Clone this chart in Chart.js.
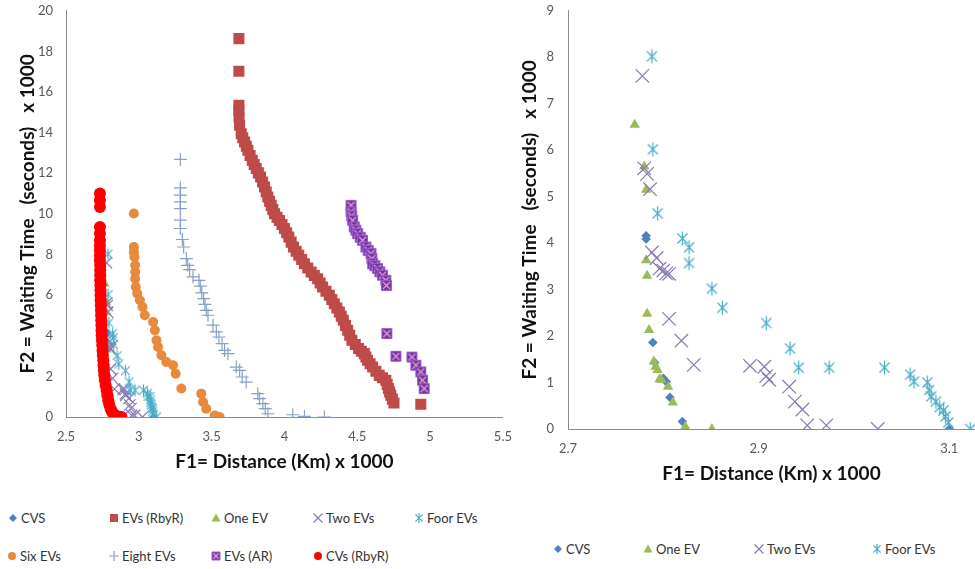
<!DOCTYPE html>
<html>
<head>
<meta charset="utf-8">
<script src="https://cdn.jsdelivr.net/npm/chart.js@4.4.0/dist/chart.umd.min.js"></script>
<style>
  body { margin: 0; background: #fff; width: 975px; height: 569px; overflow: hidden; position: relative; font-family: Lato, sans-serif; }
  #left { position: absolute; left: 0; top: -10px; }
  #right { position: absolute; left: 505px; top: -11px; }
  .item { position: absolute; display: flex; align-items: center; white-space: nowrap; font-size: 13px; color: #333; line-height: 16px; }
  .item canvas { margin-right: 2px; }
</style>
</head>
<body>
<canvas id="left" width="524" height="500"></canvas>
<canvas id="right" width="470" height="501"></canvas>
<div id="legend"></div>
<script>
// tick labels
const leftXTicks = [2.5, 3, 3.5, 4, 4.5, 5, 5.5];
const leftYTicks = [0, 2, 4, 6, 8, 10, 12, 14, 16, 18, 20];
const rightXTicks = [2.7, 2.9, 3.1];
const rightYTicks = [0, 1, 2, 3, 4, 5, 6, 7, 8, 9];

// series, [distance, waiting time] in thousands
const cvs = [[2.782,4.16],[2.782,4.09],[2.789,1.86],[2.791,1.43],[2.800,1.09],[2.803,1.02],[2.807,0.68],[2.820,0.16],[3.100,0.0]];
const oneEV = [[2.770,6.55],[2.780,5.65],[2.782,5.15],[2.782,3.63],[2.783,3.30],[2.783,2.48],[2.785,2.13],[2.790,1.45],[2.792,1.34],[2.794,1.27],[2.796,1.07],[2.798,1.06],[2.805,0.91],[2.810,0.57],[2.823,0.05],[2.851,0.0]];
const twoEVs = [[2.778,7.60],[2.780,5.61],[2.783,5.49],[2.786,5.16],[2.788,3.80],[2.793,3.68],[2.796,3.45],[2.800,3.41],[2.803,3.35],[2.806,3.34],[2.806,2.37],[2.819,1.90],[2.832,1.38],[2.891,1.36],[2.906,1.34],[2.908,1.14],[2.911,1.06],[2.932,0.91],[2.938,0.59],[2.946,0.42],[2.951,0.08],[2.971,0.08],[3.025,0.0]];
const foorEVs = [[2.788,8.02],[2.789,6.02],[2.794,4.64],[2.820,4.10],[2.827,3.91],[2.827,3.57],[2.851,3.02],[2.862,2.61],[2.908,2.28],[2.933,1.73],[2.942,1.32],[2.974,1.32],[3.032,1.32],[3.059,1.17],[3.063,1.02],[3.077,1.00],[3.079,0.84],[3.081,0.70],[3.086,0.59],[3.090,0.47],[3.094,0.40],[3.096,0.27],[3.099,0.14],[3.122,0.0]];
const evsRbyR = [[3.687,18.63],[3.687,17.02],[3.687,15.35],[3.687,15.10],[3.688,14.77],[3.692,14.36],[3.703,13.95],[3.714,13.75],[3.726,13.54],[3.738,13.33],[3.749,13.13],[3.764,12.88],[3.779,12.64],[3.792,12.43],[3.806,12.23],[3.821,12.02],[3.836,11.82],[3.850,11.57],[3.863,11.32],[3.875,11.08],[3.886,10.83],[3.898,10.62],[3.909,10.42],[3.920,10.21],[3.932,10.01],[3.949,9.84],[3.966,9.68],[3.983,9.48],[4.000,9.28],[4.015,9.07],[4.030,8.86],[4.046,8.61],[4.062,8.37],[4.080,8.16],[4.098,7.96],[4.118,7.75],[4.137,7.55],[4.160,7.34],[4.183,7.14],[4.205,6.97],[4.228,6.81],[4.245,6.60],[4.262,6.40],[4.285,6.19],[4.308,5.99],[4.325,5.78],[4.342,5.58],[4.360,5.37],[4.377,5.17],[4.390,4.96],[4.404,4.76],[4.419,4.51],[4.434,4.27],[4.448,4.02],[4.463,3.78],[4.486,3.57],[4.509,3.37],[4.528,3.24],[4.548,3.12],[4.559,2.95],[4.570,2.79],[4.588,2.62],[4.605,2.46],[4.628,2.25],[4.651,2.05],[4.673,1.93],[4.696,1.81],[4.705,1.60],[4.714,1.40],[4.722,1.23],[4.730,1.07],[4.741,0.88],[4.752,0.69],[4.936,0.63]];
const sixEVs = [[2.966,10.02],[2.966,8.37],[2.966,8.13],[2.970,7.88],[2.975,7.47],[2.975,7.14],[2.975,6.81],[2.979,6.40],[2.989,6.08],[3.007,5.75],[3.025,5.42],[3.041,5.01],[3.098,4.68],[3.110,4.27],[3.121,3.78],[3.132,3.45],[3.155,3.04],[3.189,2.71],[3.235,2.55],[3.253,2.13],[3.292,1.40],[3.429,1.15],[3.441,0.74],[3.463,0.41],[3.521,0.08],[3.555,0.0]];
const eightEVs = [[3.285,12.68],[3.285,11.28],[3.285,10.92],[3.285,10.59],[3.285,10.26],[3.285,9.69],[3.285,9.28],[3.299,8.74],[3.308,8.37],[3.326,7.80],[3.336,7.47],[3.349,7.26],[3.372,6.90],[3.413,6.73],[3.422,6.44],[3.432,6.11],[3.445,5.83],[3.454,5.55],[3.463,5.25],[3.475,5.01],[3.509,4.52],[3.532,4.19],[3.550,3.94],[3.571,3.61],[3.589,3.28],[3.612,3.12],[3.669,2.46],[3.692,2.30],[3.710,1.97],[3.737,1.72],[3.817,1.15],[3.829,0.90],[3.852,0.66],[3.868,0.41],[3.886,0.16],[4.057,0.11],[4.137,0.03],[4.274,0.0]];
const evsAR = [[4.457,10.42],[4.457,10.10],[4.462,9.90],[4.468,9.68],[4.479,9.36],[4.490,9.20],[4.502,9.03],[4.520,8.85],[4.536,8.70],[4.559,8.37],[4.575,8.20],[4.594,8.05],[4.600,7.80],[4.605,7.55],[4.620,7.45],[4.639,7.31],[4.655,7.15],[4.673,6.98],[4.696,6.73],[4.700,6.48],[4.703,4.11],[4.765,2.99],[4.875,2.95],[4.902,2.55],[4.936,2.22],[4.948,1.81],[4.959,1.40]];
const cvsRbyR = [[2.733,11.00],[2.733,10.67],[2.733,10.34],[2.733,9.36],[2.733,9.03],[2.733,8.70],[2.733,8.45],[2.733,8.21],[2.733,7.96],[2.733,7.72],[2.735,7.47],[2.735,7.22],[2.735,6.98],[2.735,6.73],[2.736,6.49],[2.737,6.24],[2.737,6.00],[2.738,5.75],[2.739,5.50],[2.740,5.25],[2.741,5.01],[2.742,4.76],[2.743,4.52],[2.744,4.27],[2.745,4.02],[2.747,3.78],[2.749,3.53],[2.751,3.28],[2.753,3.04],[2.756,2.79],[2.758,2.55],[2.760,2.30],[2.763,2.06],[2.767,1.81],[2.772,1.56],[2.779,1.31],[2.784,1.07],[2.790,0.82],[2.797,0.62],[2.806,0.41],[2.815,0.28],[2.824,0.16],[2.840,0.08],[2.858,0.03],[2.881,0.00]];

const leftSeries = [
  ['CVS', cvs], ['EVs (RbyR)', evsRbyR], ['One EV', oneEV], ['Two EVs', twoEVs], ['Foor EVs', foorEVs],
  ['Six EVs', sixEVs], ['Eight EVs', eightEVs], ['EVs (AR)', evsAR], ['CVs (RbyR)', cvsRbyR]
];
const rightSeries = [['CVS', cvs], ['One EV', oneEV], ['Two EVs', twoEVs], ['Foor EVs', foorEVs]];

// marker look per series: kind, colour, radius left chart, radius right chart
const looks = {
  'CVS':        { kind: 'diamond',  color: '#4f81bd', rl: 4,   rr: 4.8 },
  'EVs (RbyR)': { kind: 'square',   color: '#be4b48', rl: 7.8, rr: 7.8 },
  'One EV':     { kind: 'triangle', color: '#9bbb59', rl: 5,   rr: 6 },
  'Two EVs':    { kind: 'x',        color: '#8878b5', rl: 8,   rr: 9.5 },
  'Foor EVs':   { kind: 'asterisk', color: '#4bacc6', rl: 6,   rr: 7 },
  'Six EVs':    { kind: 'circle',   color: '#e8893b', rl: 5,   rr: 5 },
  'Eight EVs':  { kind: 'plus',     color: '#87a0c8', rl: 6.5, rr: 6.5 },
  'EVs (AR)':   { kind: 'arsquare', color: '#7434a8', rl: 5,   rr: 5 },
  'CVs (RbyR)': { kind: 'circle',   color: '#ff0000', rl: 6,   rr: 6 }
};

function drawMarker(g, kind, cx, cy, r, color) {
  g.fillStyle = color;
  g.strokeStyle = color;
  g.lineWidth = 1.2;
  g.beginPath();
  if (kind === 'diamond') {
    g.moveTo(cx, cy - r); g.lineTo(cx + r, cy); g.lineTo(cx, cy + r); g.lineTo(cx - r, cy); g.closePath(); g.fill();
  } else if (kind === 'square') {
    g.rect(cx - r, cy - r, 2 * r, 2 * r); g.fill();
  } else if (kind === 'triangle') {
    g.moveTo(cx, cy - r); g.lineTo(cx + r, cy + r * 0.8); g.lineTo(cx - r, cy + r * 0.8); g.closePath(); g.fill();
  } else if (kind === 'circle') {
    g.arc(cx, cy, r, 0, Math.PI * 2); g.fill();
  } else if (kind === 'x') {
    g.moveTo(cx - r, cy - r); g.lineTo(cx + r, cy + r); g.moveTo(cx - r, cy + r); g.lineTo(cx + r, cy - r); g.stroke();
  } else if (kind === 'plus') {
    g.moveTo(cx - r, cy); g.lineTo(cx + r, cy); g.moveTo(cx, cy - r); g.lineTo(cx, cy + r); g.stroke();
  } else if (kind === 'asterisk') {
    const d = r * 0.72;
    g.moveTo(cx, cy - r); g.lineTo(cx, cy + r);
    g.moveTo(cx - d, cy - d); g.lineTo(cx + d, cy + d);
    g.moveTo(cx - d, cy + d); g.lineTo(cx + d, cy - d);
    g.stroke();
  } else if (kind === 'arsquare') {
    g.rect(cx - r, cy - r, 2 * r, 2 * r); g.fill();
    g.strokeStyle = '#9a5cd0'; g.lineWidth = 1; g.stroke();
    g.beginPath();
    g.strokeStyle = '#e6a3c6'; g.lineWidth = 1.2;
    const d = r - 1.5;
    g.moveTo(cx - d, cy - d); g.lineTo(cx + d, cy + d); g.moveTo(cx - d, cy + d); g.lineTo(cx + d, cy - d);
    g.stroke();
  }
}

function markerCanvas(kind, r, color) {
  const size = Math.ceil(2 * r + 3);
  const c = document.createElement('canvas');
  c.width = size; c.height = size;
  drawMarker(c.getContext('2d'), kind, size / 2, size / 2, r, color);
  return c;
}

function pointOpts(look, r) {
  const o = { backgroundColor: look.color, borderColor: look.color, pointRadius: r, pointHoverRadius: r, pointBorderWidth: 0 };
  if (look.kind === 'diamond') o.pointStyle = 'rectRot';
  else if (look.kind === 'square') o.pointStyle = 'rect';
  else if (look.kind === 'triangle') o.pointStyle = 'triangle';
  else if (look.kind === 'circle') o.pointStyle = 'circle';
  else if (look.kind === 'x') { o.pointStyle = 'crossRot'; o.pointBorderWidth = 1.2; }
  else if (look.kind === 'plus') { o.pointStyle = 'cross'; o.pointBorderWidth = 1.2; }
  else o.pointStyle = markerCanvas(look.kind, r, look.color);
  return o;
}

const tickFont = { family: 'Lato', size: 13 };
const titleFont = { family: 'Lato', size: 19, weight: 'bold' };

function makeChart(id, series, side, cfg) {
  const datasets = series.map(([name, pts], i) => Object.assign({
    label: name,
    data: pts.map(p => ({ x: p[0], y: p[1] })),
    order: -i
  }, pointOpts(looks[name], side === 'left' ? looks[name].rl : looks[name].rr)));

  return new Chart(document.getElementById(id), {
    type: 'scatter',
    data: { datasets },
    options: {
      responsive: false,
      animation: false,
      layout: { padding: cfg.padding, autoPadding: false },
      plugins: { legend: { display: false }, tooltip: { enabled: false } },
      scales: {
        x: {
          type: 'linear', min: cfg.xMin, max: cfg.xMax,
          afterBuildTicks: s => { s.ticks = cfg.xTicks.map(v => ({ value: v })); },
          afterFit: s => { s.height = cfg.xHeight; },
          grid: { display: false, drawTicks: false },
          border: { display: true, color: '#8c8c8c', width: 1 },
          ticks: { padding: 12, color: '#595959', font: tickFont, maxRotation: 0, autoSkip: false, callback: v => String(v) },
          title: { display: true, text: 'F1= Distance (Km) x 1000', color: '#111', font: titleFont, padding: { top: 0, bottom: cfg.xTitlePad } }
        },
        y: {
          type: 'linear', min: cfg.yMin, max: cfg.yMax,
          afterBuildTicks: s => { s.ticks = cfg.yTicks.map(v => ({ value: v })); },
          afterFit: s => { s.width = cfg.yWidth; },
          grid: { display: false, drawTicks: false },
          border: { display: true, color: '#8c8c8c', width: 1 },
          ticks: { padding: cfg.yTickPad, color: '#595959', font: tickFont, autoSkip: false, callback: v => String(v) },
          title: { display: true, text: 'F2 = Waiting Time   (seconds)   x 1000', color: '#111', font: titleFont, padding: { top: cfg.yTitlePad, bottom: 0 } }
        }
      }
    }
  });
}

makeChart('left', leftSeries, 'left', {
  xMin: 2.5, xMax: 5.5, yMin: 0, yMax: 20,
  xTicks: leftXTicks, yTicks: leftYTicks,
  padding: { top: 0, right: 0, bottom: 0, left: 0 },
  xHeight: 73, yWidth: 66, xTitlePad: 17, yTitlePad: 16, yTickPad: 13
});

makeChart('right', rightSeries, 'right', {
  xMin: 2.7, xMax: 3.127, yMin: 0, yMax: 9,
  xTicks: rightXTicks, yTicks: rightYTicks,
  padding: { top: 0, right: 0, bottom: 0, left: 0 },
  xHeight: 61, yWidth: 63, xTitlePad: 5, yTitlePad: 13, yTickPad: 14
});

// legends (html, fixed columns like the original)
const legendSpots = [
  { names: ['CVS', 'EVs (RbyR)', 'One EV', 'Two EVs', 'Foor EVs'], xs: [13, 114, 216, 318, 419], y: 518 },
  { names: ['Six EVs', 'Eight EVs', 'EVs (AR)', 'CVs (RbyR)'], xs: [12, 114, 216, 318], y: 556 },
  { names: ['CVS', 'One EV', 'Two EVs', 'Foor EVs'], xs: [558, 648, 759, 877], y: 549 }
];
const legendR = { diamond: 4, square: 4, triangle: 4.5, circle: 4, x: 4.5, plus: 5, asterisk: 5, arsquare: 4 };
const legendBox = document.getElementById('legend');
legendSpots.forEach(row => {
  row.names.forEach((name, i) => {
    const look = looks[name];
    const item = document.createElement('div');
    item.className = 'item';
    const c = document.createElement('canvas');
    c.width = 12; c.height = 12;
    drawMarker(c.getContext('2d'), look.kind, 6, 6, legendR[look.kind], look.color);
    item.appendChild(c);
    const t = document.createElement('span');
    t.textContent = name;
    item.appendChild(t);
    item.style.left = (row.xs[i] - 6) + 'px';
    item.style.top = (row.y - 8) + 'px';
    legendBox.appendChild(item);
  });
});
</script>
</body>
</html>
